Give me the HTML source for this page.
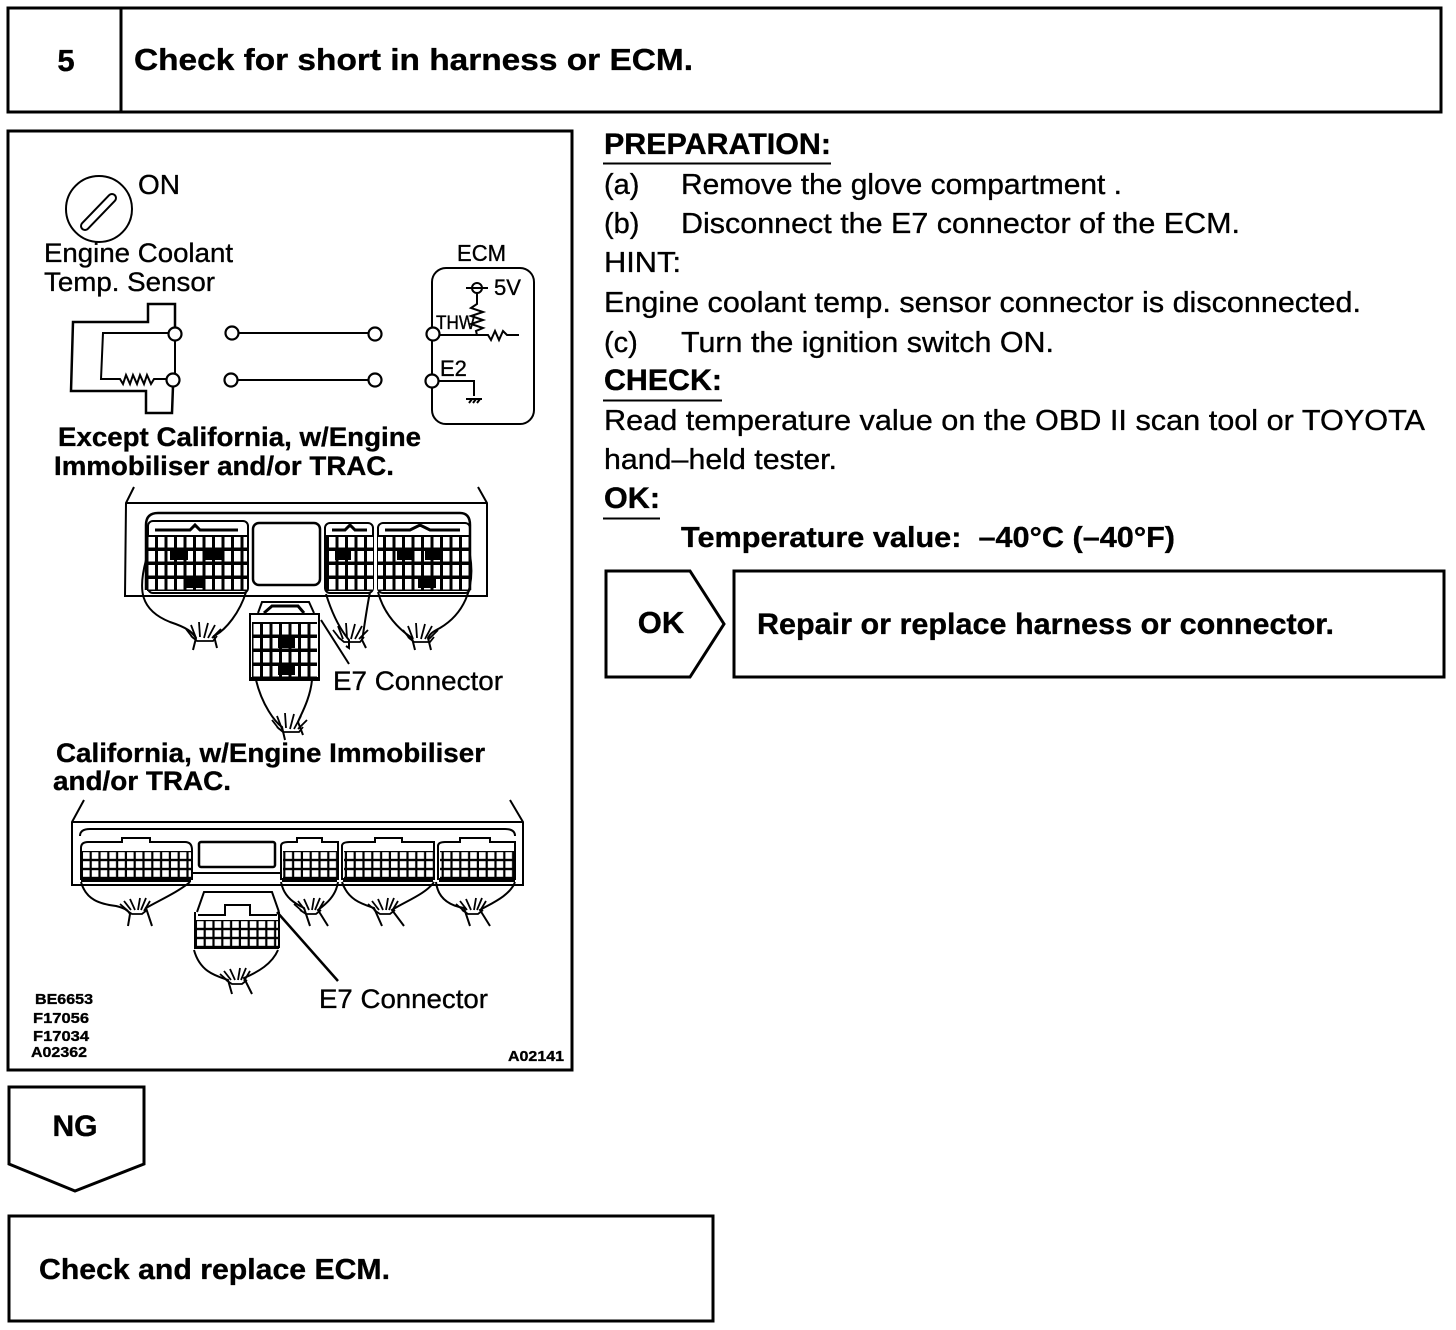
<!DOCTYPE html>
<html><head><meta charset="utf-8"><style>
html,body{margin:0;padding:0;background:#fff}
svg{display:block}
text{font-family:"Liberation Sans",Arial,sans-serif;fill:#000;stroke:#000;stroke-width:.35px}
.b{font-weight:bold}
</style></head><body>
<svg width="1456" height="1330" viewBox="0 0 1456 1330" xmlns="http://www.w3.org/2000/svg">
<defs>
<pattern id="v1" width="9.500" height="14" patternUnits="userSpaceOnUse" x="147" y="535"><rect width="9.500" height="14" fill="#000"/><rect x="1.500" y="2" width="6.500" height="10.500" fill="#fff"/></pattern>
<pattern id="v2" width="9.500" height="14" patternUnits="userSpaceOnUse" x="252" y="622"><rect width="9.500" height="14" fill="#000"/><rect x="1.500" y="2" width="6.500" height="10.500" fill="#fff"/></pattern>
<pattern id="h1" width="8.800" height="9" patternUnits="userSpaceOnUse" x="82" y="851"><rect width="8.800" height="9" fill="#000"/><rect x="1" y="1.200" width="6.600" height="6.600" fill="#fff"/></pattern>
<pattern id="h2" width="8.800" height="9" patternUnits="userSpaceOnUse" x="196" y="920"><rect width="8.800" height="9" fill="#000"/><rect x="1" y="1.200" width="6.600" height="6.600" fill="#fff"/></pattern>
<g id="fan" fill="none" stroke="#000" stroke-width="1.800">
<path d="M-12 2L-19-7M-9 2L-14-11M-5 1L-6-14M-1 2L3-13M3 2L10-11M7 2L16-7M-14 0L-8 5H8L12 0"/>
</g>
<g id="fan2" fill="none" stroke="#000" stroke-width="1.800">
<path d="M-10 1L-18-6M-7 0L-14-9M-3 0L-8-11M0 0L2-12M3 0L8-12M6 1L12-9M-12 0L-6 4H4L9 0"/>
</g>
</defs>
<rect width="1456" height="1330" fill="#fff"/>

<g fill="none" stroke="#000" stroke-width="3">
<rect x="8" y="8" width="1433" height="104"/>
<path d="M121 8V112"/>
<rect x="8" y="131" width="564" height="939"/>
<path d="M606 571H690L724 624L690 677H606Z"/>
<rect x="734" y="571" width="710" height="106"/>
<path d="M9 1087H144V1164L75 1191L9 1164Z"/>
<rect x="9" y="1216" width="704" height="105"/>
</g>

<text class="b" x="66" y="71" font-size="31" text-anchor="middle">5</text>
<text class="b" x="134" y="70" font-size="31" textLength="559" lengthAdjust="spacingAndGlyphs">Check for short in harness or ECM.</text>

<text class="b" x="604" y="154" font-size="30" textLength="227" lengthAdjust="spacingAndGlyphs">PREPARATION:</text>
<path d="M603 163.500H831M603 400.500H722M603 518.500H660" stroke="#000" stroke-width="2"/>
<text x="604" y="194" font-size="29">(a)</text>
<text x="681" y="194" font-size="29" textLength="441" lengthAdjust="spacingAndGlyphs">Remove the glove compartment .</text>
<text x="604" y="233" font-size="29">(b)</text>
<text x="681" y="233" font-size="29" textLength="559" lengthAdjust="spacingAndGlyphs">Disconnect the E7 connector of the ECM.</text>
<text x="604" y="272" font-size="29" textLength="77" lengthAdjust="spacingAndGlyphs">HINT:</text>
<text x="604" y="312" font-size="29" textLength="757" lengthAdjust="spacingAndGlyphs">Engine coolant temp. sensor connector is disconnected.</text>
<text x="604" y="352" font-size="29">(c)</text>
<text x="681" y="352" font-size="29" textLength="373" lengthAdjust="spacingAndGlyphs">Turn the ignition switch ON.</text>
<text class="b" x="604" y="390" font-size="30" textLength="118" lengthAdjust="spacingAndGlyphs">CHECK:</text>
<text x="604" y="430" font-size="29" textLength="821" lengthAdjust="spacingAndGlyphs">Read temperature value on the OBD II scan tool or TOYOTA</text>
<text x="604" y="469" font-size="29" textLength="233" lengthAdjust="spacingAndGlyphs">hand–held tester.</text>
<text class="b" x="604" y="508" font-size="30" textLength="56" lengthAdjust="spacingAndGlyphs">OK:</text>
<text class="b" x="681" y="547" font-size="29" textLength="494" lengthAdjust="spacingAndGlyphs">Temperature value:&#160; –40°C (–40°F)</text>

<text class="b" x="661" y="633" font-size="31" text-anchor="middle">OK</text>
<text class="b" x="757" y="634" font-size="30" textLength="577" lengthAdjust="spacingAndGlyphs">Repair or replace harness or connector.</text>
<text class="b" x="75" y="1136" font-size="30" text-anchor="middle">NG</text>
<text class="b" x="39" y="1279" font-size="29" textLength="351" lengthAdjust="spacingAndGlyphs">Check and replace ECM.</text>

<!-- switch -->
<g fill="none" stroke="#000">
<circle cx="99" cy="209" r="33" stroke-width="2"/>
<path d="M85 226L112 198" stroke-width="10" stroke-linecap="round"/>
<path d="M85 226L112 198" stroke="#fff" stroke-width="6" stroke-linecap="round"/>
</g>
<text x="138" y="194" font-size="28">ON</text>
<text x="44" y="262" font-size="27" textLength="189" lengthAdjust="spacingAndGlyphs">Engine Coolant</text>
<text x="44" y="291" font-size="27" textLength="171" lengthAdjust="spacingAndGlyphs">Temp. Sensor</text>
<text x="457" y="261" font-size="23" textLength="49" lengthAdjust="spacingAndGlyphs">ECM</text>

<!-- circuit -->
<g fill="none" stroke="#000" stroke-width="2">
<path d="M175 327V304H148V322H73L71 391H146V413H172L173 386" stroke-width="2.500"/>
<path d="M168 333H103L101 379H120L123 384L126 375L130 384L133 375L137 384L140 375L144 384L147 375L151 384L154 379H167"/>
<path d="M175 339V374"/>
<path d="M238 333H369M237 380H369"/>
<rect x="432" y="268" width="102" height="156" rx="14"/>
<path d="M477 293V304L471 308L483 312L471 316L483 320L471 324L483 328L476 331L477 335M466 288H488M438 335H480M477 335H488L491 340L495 331L499 340L503 331L507 335H519"/>
<circle cx="477" cy="288" r="5"/>
<path d="M438 381H474V396M466 399H482M469 403L472 399M473 403L476 399M477 403L480 399"/>
</g>
<g fill="#fff" stroke="#000" stroke-width="2.200">
<circle cx="175" cy="334" r="6.500"/><circle cx="173" cy="380" r="6.500"/>
<circle cx="232" cy="333" r="6.500"/><circle cx="231" cy="380" r="6.500"/>
<circle cx="375" cy="334" r="6.500"/><circle cx="375" cy="380" r="6.500"/>
<circle cx="433" cy="334" r="6.500"/><circle cx="432" cy="381" r="6.500"/>
</g>
<text x="494" y="295" font-size="22">5V</text>
<text x="436" y="329" font-size="19" textLength="39" lengthAdjust="spacingAndGlyphs">THW</text>
<text x="440" y="376" font-size="22">E2</text>

<text class="b" x="58" y="446" font-size="27" textLength="363" lengthAdjust="spacingAndGlyphs">Except California, w/Engine</text>
<text class="b" x="54" y="475" font-size="27" textLength="340" lengthAdjust="spacingAndGlyphs">Immobiliser and/or TRAC.</text>

<!-- ECU 1 -->
<g fill="none" stroke="#000" stroke-width="2">
<path d="M134 487L126 503L125 596H487L487 503L478 487M126 503H487" />
<path d="M146 590V525Q146 513 158 513H460Q470 513 470 525V590" stroke-width="2.500"/>
<rect x="148" y="521" width="100" height="72" rx="5"/>
<rect x="253" y="523" width="67" height="62" rx="6" stroke-width="2.500"/>
<rect x="325" y="523" width="48" height="70" rx="5"/>
<rect x="378" y="523" width="92" height="70" rx="5"/>
<path d="M155 530H190L195 525L200 530H238M332 530H345L350 525L355 530H367M385 530H410L420 525L430 530H460" stroke-width="3"/>
</g>
<rect x="147" y="535" width="100" height="56" fill="url(#v1)"/>
<rect x="326" y="535" width="47" height="56" fill="url(#v1)"/>
<rect x="378" y="535" width="91" height="56" fill="url(#v1)"/>
<g fill="#000">
<rect x="170" y="551" width="18" height="9"/><rect x="205" y="551" width="18" height="9"/><rect x="186" y="578" width="18" height="10"/>
<rect x="335" y="551" width="16" height="9"/><rect x="397" y="551" width="16" height="9"/><rect x="425" y="551" width="16" height="9"/><rect x="418" y="578" width="18" height="10"/>
</g>
<g fill="none" stroke="#000" stroke-width="2">
<path d="M146 560C138 590 140 610 170 622C188 628 192 632 196 638L193 650"/>
<path d="M246 592C240 612 226 630 214 636L217 648"/>
<path d="M326 594C334 620 344 634 349 640L349 648L346 646"/>
<path d="M370 592C366 612 364 630 362 640L366 648"/>
<path d="M378 592C384 615 400 630 412 638L415 650M470 555C476 590 462 615 440 628C432 632 430 634 428 638L431 650"/>
<path d="M256 680C262 705 275 722 282 727L285 740M312 680C310 700 300 716 298 722L303 735"/>
<path d="M321 620L349 664"/>
</g>
<use href="#fan" x="205" y="636"/>
<use href="#fan" x="352" y="637"/>
<use href="#fan" x="422" y="637"/>
<use href="#fan" x="291" y="727"/>

<!-- E7 lower 1 -->
<g fill="none" stroke="#000" stroke-width="2">
<path d="M258 613L262 602H309L314 613M250 614H319V680H250Z"/>
<path d="M264 613L272 606H298L304 613" stroke-width="3"/>
</g>
<rect x="252" y="622" width="65" height="56" fill="url(#v2)"/>
<rect x="250" y="677" width="69" height="4" fill="#000"/>
<rect x="278" y="638" width="17" height="10" fill="#000"/><rect x="278" y="665" width="17" height="10" fill="#000"/>
<text x="333" y="690" font-size="27" textLength="170" lengthAdjust="spacingAndGlyphs">E7 Connector</text>

<text class="b" x="56" y="762" font-size="27" textLength="429" lengthAdjust="spacingAndGlyphs">California, w/Engine Immobiliser</text>
<text class="b" x="53" y="790" font-size="27" textLength="178" lengthAdjust="spacingAndGlyphs">and/or TRAC.</text>

<!-- ECU 2 -->
<g fill="none" stroke="#000" stroke-width="2">
<path d="M84 800L72 822V885H523V822L510 800M72 822H523"/>
<path d="M80 836Q80 829 90 829H505Q515 829 515 836"/>
<rect x="199" y="842" width="76" height="25" rx="2" stroke-width="2.500"/>
<path d="M192 873H281"/>
<path d="M81 880V848Q81 842 88 842H122V838H150V842H185Q192 842 192 850V880" stroke-width="2"/>
<path d="M281 880V846Q281 842 288 842H297V838H322V842H338V880" stroke-width="2"/>
<path d="M342 880V846Q342 842 350 842H375V838H402V842H434V880" stroke-width="2"/>
<path d="M438 880V846Q438 842 445 842H460V838H490V842H515V880" stroke-width="2"/>
</g>
<rect x="82" y="851" width="109" height="28" fill="url(#h1)"/>
<rect x="283" y="851" width="54" height="28" fill="url(#h1)"/>
<rect x="344" y="851" width="89" height="28" fill="url(#h1)"/>
<rect x="440" y="851" width="74" height="28" fill="url(#h1)"/>
<path d="M81 880H191M282 880H337M343 880H433M439 880H515" stroke="#000" stroke-width="4"/>
<g fill="none" stroke="#000" stroke-width="2">
<path d="M81 882C86 900 100 904 116 906C124 908 128 910 130 914L128 926M190 882C178 892 160 900 146 908L152 926"/>
<path d="M281 882C284 898 296 904 304 908L310 926M338 882C336 896 326 904 318 910L328 926"/>
<path d="M342 882C348 900 362 904 374 908L382 926M434 882C426 894 404 902 392 910L404 926"/>
<path d="M436 882C438 900 452 906 464 908L470 926M515 882C510 896 490 904 480 910L490 926"/>
<path d="M194 950C200 972 216 976 228 980L232 994M278 950C272 964 258 972 244 978L252 994"/>
<path d="M277 912L338 981" stroke-width="2.500"/>
</g>
<use href="#fan2" x="138" y="910"/>
<use href="#fan2" x="312" y="910"/>
<use href="#fan2" x="386" y="910"/>
<use href="#fan2" x="474" y="910"/>
<use href="#fan2" x="238" y="980"/>

<!-- E7 lower 2 -->
<g fill="none" stroke="#000" stroke-width="2">
<path d="M197 912L204 892H272L279 912M195 912V948M279 912V948"/>
<path d="M198 915H225V905H250V915H277" stroke-width="2"/>
</g>
<rect x="196" y="920" width="82" height="27" fill="url(#h2)"/>
<rect x="194" y="946" width="85" height="3" fill="#000"/>
<text x="319" y="1008" font-size="27" textLength="169" lengthAdjust="spacingAndGlyphs">E7 Connector</text>

<g font-size="15">
<text class="b" x="35" y="1004" textLength="58" lengthAdjust="spacingAndGlyphs">BE6653</text>
<text class="b" x="33" y="1023" textLength="56" lengthAdjust="spacingAndGlyphs">F17056</text>
<text class="b" x="33" y="1041" textLength="56" lengthAdjust="spacingAndGlyphs">F17034</text>
<text class="b" x="31" y="1057" textLength="56" lengthAdjust="spacingAndGlyphs">A02362</text>
<text class="b" x="508" y="1061" textLength="56" lengthAdjust="spacingAndGlyphs">A02141</text>
</g>
</svg>
</body></html>
